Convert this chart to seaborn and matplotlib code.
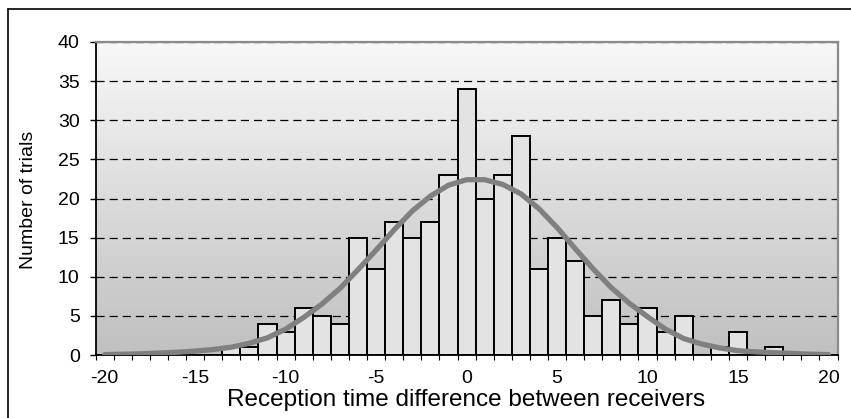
import numpy as np
import pandas as pd
import matplotlib
matplotlib.use("Agg")
import matplotlib.pyplot as plt
from matplotlib.colors import LinearSegmentedColormap
from matplotlib.lines import Line2D
import seaborn as sns

sns.set_theme(style="white")
plt.rcParams["font.family"] = ["Liberation Sans", "DejaVu Sans"]

# reception time difference (category), number of trials, fitted curve
diffs = list(range(-20, 21))
counts = [0, 0, 0, 0, 0, 0, 0, 1, 1, 4, 3, 6, 5, 4, 15, 11, 17, 15, 17, 23,
          34, 20, 23, 28, 11, 15, 12, 5, 7, 4, 6, 3, 5, 0, 1, 3, 0, 1, 0, 0, 0]
fit = [0.05, 0.1, 0.15, 0.25, 0.35, 0.5, 0.7, 1.0, 1.5, 2.2, 3.3, 4.8, 6.5, 8.5,
       10.9, 13.4, 16.0, 18.4, 20.3, 21.7, 22.4, 22.4, 21.8, 20.6, 18.7, 16.3,
       13.6, 11.0, 8.6, 6.6, 4.9, 3.3, 2.1, 1.4, 0.9, 0.55, 0.4, 0.3, 0.2, 0.1, 0.05]
xtick_labels = [-20, -15, -10, -5, 0, 5, 10, 15, 20]
yticks = [0, 5, 10, 15, 20, 25, 30, 35, 40]

df = pd.DataFrame({"diff": diffs, "trials": counts, "fit": fit})

W, H = 851, 418
fig = plt.figure(figsize=(W / 100, H / 100), dpi=100)
fig.patch.set_facecolor("white")
L, R, T, B = 95.6, 837.5, 42.0, 355.0
ax = fig.add_axes([L / W, 1 - B / H, (R - L) / W, (B - T) / H])

# background gradient of the plot area
cmap = LinearSegmentedColormap.from_list(
    "bg", [(0, "#c1c1c1"), (0.06, "#c3c3c3"), (1, "#f8f8f8")])
grad = np.linspace(0, 1, 256).reshape(-1, 1)
ax.imshow(grad, extent=(-20.5, 20.5, 0, 40), origin="lower", aspect="auto",
          cmap=cmap, zorder=0, interpolation="bilinear")

# bars
sns.barplot(data=df, x="diff", y="trials", native_scale=True, width=1,
            color="#e3e3e3", saturation=1, edgecolor="black", linewidth=1.4,
            errorbar=None, ax=ax, zorder=2)

# fitted curve
sns.lineplot(data=df, x="diff", y="fit", color="#808080", linewidth=3.8,
             ax=ax, zorder=3, solid_capstyle="round", solid_joinstyle="round")

ax.set_xlim(-20.5, 20.5)
ax.set_ylim(0, 40)

# grid
ax.set_axisbelow(True)
ax.yaxis.grid(True, color="black", linewidth=0.9, linestyle=(0, (6.5, 4)), zorder=1)
ax.xaxis.grid(False)

# ticks
ax.set_yticks(yticks)
ax.set_yticklabels([str(v) for v in yticks], fontsize=14)
ax.set_xticks(np.arange(-20.5, 21, 1))
ax.set_xticklabels([])
ax.set_xticks(xtick_labels, minor=True)
ax.set_xticklabels([str(v) for v in xtick_labels], minor=True, fontsize=14)
ax.tick_params(axis="y", which="major", direction="out", length=4.5, width=1,
               color="black", pad=7, left=True, labelcolor="black")
ax.tick_params(axis="x", which="major", direction="out", length=3.5, width=0.8,
               color="black", bottom=True)
ax.tick_params(axis="x", which="minor", length=0, pad=11, labelcolor="black",
               bottom=True)

# spines
for s in ["left", "bottom"]:
    ax.spines[s].set_color("black")
    ax.spines[s].set_linewidth(1.3)
for s in ["top", "right"]:
    ax.spines[s].set_color("#8a8a8a")
    ax.spines[s].set_linewidth(1.6)

ax.set_xlabel("Reception time difference between receivers", fontsize=17.5,
              color="black", va="top")
ax.xaxis.set_label_coords(0.5, -0.11)
ax.set_ylabel("Number of trials", fontsize=14, color="black")
ax.yaxis.set_label_coords(-0.079, 0.495)

# outer chart border (only top and left are visible)
fig.add_artist(Line2D([8 / W, 8 / W], [0, 1 - 9 / H], transform=fig.transFigure,
                      color="black", linewidth=1.2))
fig.add_artist(Line2D([8 / W, 1], [1 - 9 / H, 1 - 9 / H], transform=fig.transFigure,
                      color="black", linewidth=1.2))

fig.savefig("out.png", dpi=100)
